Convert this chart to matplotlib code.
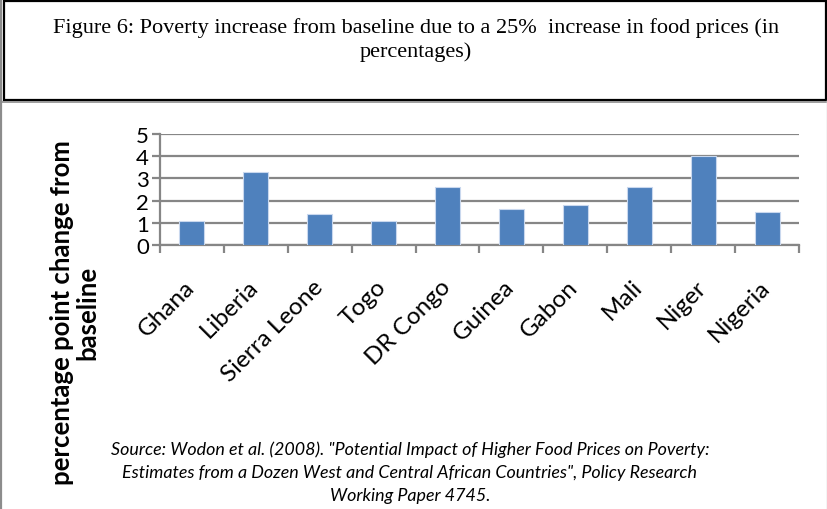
import matplotlib.pyplot as plt
import matplotlib.transforms as mtransforms
from matplotlib.patches import Rectangle
from matplotlib.lines import Line2D
import numpy as np

countries = ["Ghana", "Liberia", "Sierra Leone", "Togo", "DR Congo",
             "Guinea", "Gabon", "Mali", "Niger", "Nigeria"]
poverty_change = [1.1, 3.3, 1.4, 1.1, 2.6, 1.6, 1.8, 2.6, 4.0, 1.5]
y_ticks = [0, 1, 2, 3, 4, 5]

title = ("Figure 6: Poverty increase from baseline due to a 25%  increase in food prices (in\n"
         "percentages)")
source = ("Source: Wodon et al. (2008). \"Potential Impact of Higher Food Prices on Poverty:\n"
          "Estimates from a Dozen West and Central African Countries\", Policy Research\n"
          "Working Paper 4745.")
ylabel = "percentage point change from\nbaseline"

W, H = 828, 510
fig = plt.figure(figsize=(W / 100, H / 100), dpi=100)

def fx(px):
    return px / W

def fy(py):
    return 1 - py / H

grid_col = "#868686"

ax = fig.add_axes([fx(160), fy(246), fx(799) - fx(160), fy(135) - fy(246)])
x = np.arange(len(countries))
ax.bar(x, poverty_change, width=0.39, color="#4F81BD", edgecolor="#C9D8EE",
       linewidth=0.8, zorder=3)
ax.set_xlim(-0.5, len(countries) - 0.5)
ax.set_ylim(0, 5)
ax.set_yticks(y_ticks)
ax.yaxis.grid(True, color=grid_col, linewidth=1.6, zorder=0)
ax.set_axisbelow(True)
for side in ["top", "right"]:
    ax.spines[side].set_visible(False)
for side in ["left", "bottom"]:
    ax.spines[side].set_color(grid_col)
    ax.spines[side].set_linewidth(1.6)

# category ticks sit on the boundaries between bars
ax.set_xticks(np.arange(-0.5, len(countries)), minor=False)
ax.set_xticklabels([])
ax.set_xticks(x, minor=True)
ax.set_xticklabels(countries, minor=True, rotation=45, ha="right",
                   rotation_mode="anchor", fontsize=17.5, family="Lato")
ax.tick_params(axis="x", which="minor", length=0, pad=22)
ax.tick_params(axis="x", which="major", length=6, width=1.6, color=grid_col)
ax.tick_params(axis="y", length=6, width=1.6, color=grid_col, labelsize=16, pad=2)
for lbl in ax.get_yticklabels():
    lbl.set_family("Lato")

# nudge the slanted names left so their ends sit under the bars
shift = mtransforms.ScaledTranslation(-8 / 100, 0, fig.dpi_scale_trans)
for lbl in ax.get_xticklabels(minor=True):
    lbl.set_transform(lbl.get_transform() + shift)

fig.text(fx(75), fy(313), ylabel, rotation=90, ha="center", va="center",
         fontsize=18.5, fontweight="bold", family="Lato", linespacing=1.05)

# title box and page borders
fig.add_artist(Rectangle((fx(4), fy(101)), fx(826) - fx(4), fy(2) - fy(101),
                         transform=fig.transFigure, fill=False,
                         edgecolor="black", linewidth=1.6))
fig.add_artist(Line2D([fx(1), fx(1)], [0, 1], transform=fig.transFigure,
                      color="#8c8c8c", linewidth=1.6))
fig.add_artist(Line2D([fx(1), fx(826)], [fy(103), fy(103)], transform=fig.transFigure,
                      color="#8c8c8c", linewidth=1.2))
fig.add_artist(Line2D([fx(827), fx(827)], [0, fy(101)], transform=fig.transFigure,
                      color="#c8c8c8", linewidth=1.0))

fig.text(fx(416), fy(40), title, ha="center", va="center", fontsize=16,
         family="Liberation Serif", linespacing=1.25)

fig.text(fx(410), fy(473), source, ha="center", va="center", fontsize=12.9,
         style="italic", family="Lato", linespacing=1.55)

fig.savefig("out.png", dpi=100)
